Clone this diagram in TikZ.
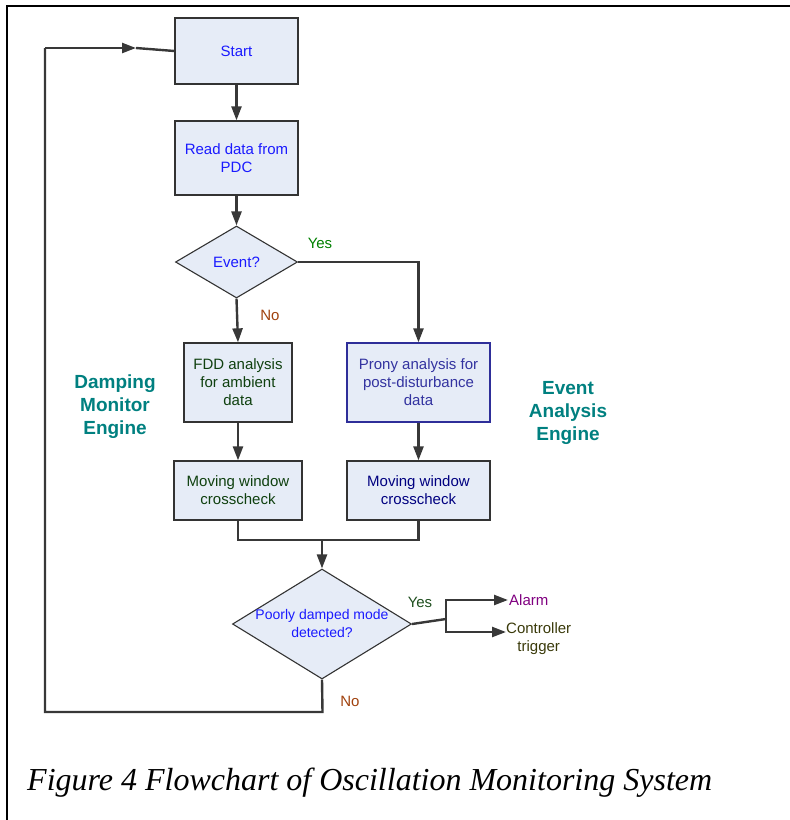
\documentclass[tikz,border=0pt]{standalone}
\usepackage{fontspec}
\setmainfont{Liberation Sans}
\newfontfamily\capfont{Liberation Serif}
\usetikzlibrary{shapes.geometric,arrows.meta,calc}
\definecolor{boxfill}{HTML}{E6ECF7}
\definecolor{boxline}{HTML}{333333}
\definecolor{pronyline}{HTML}{2E2E99}
\definecolor{connc}{HTML}{383838}
\definecolor{tblue}{HTML}{1A1AFF}
\definecolor{tgreen}{HTML}{008000}
\definecolor{tno}{HTML}{A0410D}
\definecolor{tdkgreen}{HTML}{0F400F}
\definecolor{tprony}{HTML}{3333A0}
\definecolor{tnavy}{HTML}{000080}
\definecolor{tyes}{HTML}{1F4F1F}
\definecolor{tpurple}{HTML}{800080}
\definecolor{tolive}{HTML}{3A3A0A}
\definecolor{tteal}{HTML}{008080}
\begin{document}
\begin{tikzpicture}[x=1pt,y=-1pt,
  box/.style={draw=boxline, line width=1.3pt, fill=boxfill, inner sep=0pt, align=center,
              font=\fontsize{15}{18}\selectfont},
  dia/.style={draw=boxline, line width=1.1pt, fill=boxfill, shape=diamond, inner sep=0pt},
  diatext/.style={align=center, inner sep=0pt},
  lbl/.style={inner sep=1pt, align=center, font=\fontsize{15}{18}\selectfont},
  engine/.style={inner sep=0pt, align=center, text=tteal, font=\bfseries\fontsize{19}{23}\selectfont},
  conn/.style={draw=connc, line width=2.4pt},
  arr/.style={conn, -{Triangle[length=14pt,width=10pt]}}
]
\useasboundingbox (0,0) rectangle (790,820);
% frame
\draw[line width=2pt] (6.5,820) -- (6.5,6) -- (790,6);

% nodes
\node[box, minimum width=123pt, minimum height=66pt, text=tblue] (start) at (236.5,51) {Start};
\node[box, minimum width=123pt, minimum height=74pt, text=tblue] (read) at (236.5,158) {Read data from\\PDC};
\node[dia, minimum width=122pt, minimum height=72pt] (event) at (236.5,262) {};
\node[diatext, text=tblue, font=\fontsize{15}{18}\selectfont] (eventt) at (event.center) {Event?};
\node[box, minimum width=108pt, minimum height=79pt, text=tdkgreen] (fdd) at (238,382.5) {FDD analysis\\for ambient\\data};
\node[box, draw=pronyline, minimum width=143pt, minimum height=79pt, text=tprony] (prony) at (418.5,382.5) {Prony analysis for\\post-disturbance\\data};
\node[box, minimum width=128pt, minimum height=59pt, text=tdkgreen] (mwl) at (238,490.5) {Moving window\\crosscheck};
\node[box, minimum width=143pt, minimum height=59pt, text=tnavy] (mwr) at (418.5,490.5) {Moving window\\crosscheck};
\node[dia, minimum width=179pt, minimum height=110pt] (pd) at (322,624) {};
\node[diatext, text=tblue, font=\fontsize{14}{18}\selectfont] (pdt) at (322,623) {Poorly damped mode\\detected?};

\node[lbl, text=tgreen] (yes1) at (320,243) {Yes};
\node[lbl, text=tno] (no1) at (270,315) {No};
\node[lbl, text=tyes] (yes2) at (420,602) {Yes};
\node[lbl, text=tno] (no2) at (350,701) {No};
\node[lbl, text=tpurple, anchor=west] (alarm) at (508,600) {Alarm};
\node[lbl, text=tolive, anchor=north west, inner sep=0pt] (ctrl) at (506,622) {Controller\\trigger};

\node[engine] (dme) at (115,407) {Damping\\Monitor\\Engine};
\node[engine] (eae) at (568,413) {Event\\Analysis\\Engine};

\node[anchor=base west, inner sep=0pt, font=\capfont\itshape\fontsize{32}{38}\selectfont] (cap) at (27,790)
  {Figure 4 Flowchart of Oscillation Monitoring System};

% coordinates
\coordinate (m) at (322,540);
\coordinate (sp) at (446,619);
\coordinate (c1) at (322.5,712);
\coordinate (c2) at (45,712);
\coordinate (c3) at (45,48);
\coordinate (c4) at (136,48);

% connectors
\draw[arr] (start) -- (read);
\draw[arr] (read) -- (event);
\draw[arr] (event.south) -- (fdd.north);
\draw[arr] (event.east) -| (prony.north);
\draw[arr] (fdd) -- (mwl);
\draw[arr] (prony) -- (mwr);
\draw[conn] (mwl.south) |- (m) -| (mwr.south);
\draw[arr] (m) -- (pd.north);
\draw[conn] (pd.east) -- (sp);
\draw[conn] (446,600) -- (446,632);
\draw[arr] (sp) |- (alarm.west);
\draw[arr] (sp) |- ($(ctrl.north west)+(0,10)$);
\draw[conn] (pd.south) -- (c1) -- (c2) -- (c3);
\draw[arr] (c3) -- (c4);
\draw[conn] (c4) -- (start.west);
\end{tikzpicture}
\end{document}
